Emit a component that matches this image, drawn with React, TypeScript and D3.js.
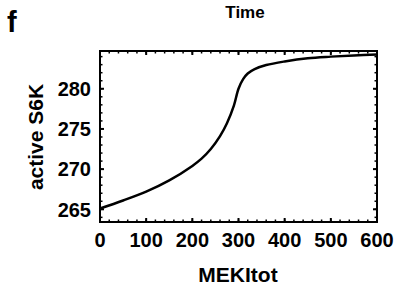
import React from "react";
import * as d3 from "d3";

const mekiTot = [0, 50, 100, 150, 200, 220, 240, 260, 275, 290, 300, 310, 320, 335, 360, 400, 450, 500, 550, 600];
const activeS6K = [265.1, 266.1, 267.2, 268.6, 270.4, 271.3, 272.5, 274.1, 275.7, 277.9, 280.0, 281.2, 281.9, 282.45, 282.95, 283.4, 283.8, 284.0, 284.15, 284.25];
const xTicks = [0, 100, 200, 300, 400, 500, 600];
const yTicks = [265, 270, 275, 280];
const xMinor = d3.range(0, 601, 20);
const yMinor = d3.range(264, 285, 1);

const W = 400, H = 285;
const L = 100, R = 377, T = 51, B = 222;

export default function App() {
  const x = d3.scaleLinear().domain([0, 600]).range([L, R]);
  const y = d3.scaleLinear().domain([263.42, 284.7]).range([B, T]);
  const pts = mekiTot.map((m, i) => [m, activeS6K[i]] as [number, number]);
  const line = d3.line<[number, number]>().x(d => x(d[0])).y(d => y(d[1])).curve(d3.curveCatmullRom.alpha(0.5));
  const font = "'Liberation Sans', Arial, sans-serif";
  return (
    <svg width={W} height={H} style={{ position: "absolute", left: 0, top: 0 }} fontFamily={font} fontWeight="bold">
      <rect x={0} y={0} width={W} height={H} fill="white" />
      <text x={7} y={32} fontSize={29}>f</text>
      <text x={245} y={18} fontSize={17} textAnchor="middle">Time</text>
      {xMinor.map(v => (
        <g key={"xm" + v}>
          <line x1={x(v)} x2={x(v)} y1={B} y2={B - 2.5} stroke="black" strokeWidth={1.5} />
          <line x1={x(v)} x2={x(v)} y1={T} y2={T + 2.5} stroke="black" strokeWidth={1.5} />
        </g>
      ))}
      {yMinor.filter(v => v > 263.42 && v < 284.7).map(v => (
        <g key={"ym" + v}>
          <line x1={L} x2={L + 2.5} y1={y(v)} y2={y(v)} stroke="black" strokeWidth={1.5} />
          <line x1={R} x2={R - 2.5} y1={y(v)} y2={y(v)} stroke="black" strokeWidth={1.5} />
        </g>
      ))}
      {xTicks.map(v => (
        <g key={"x" + v}>
          <line x1={x(v)} x2={x(v)} y1={B} y2={B - 4} stroke="black" strokeWidth={2} />
          <line x1={x(v)} x2={x(v)} y1={T} y2={T + 4} stroke="black" strokeWidth={2} />
          <text x={x(v)} y={247} fontSize={20} textAnchor="middle">{v}</text>
        </g>
      ))}
      {yTicks.map(v => (
        <g key={"y" + v}>
          <line x1={L} x2={L + 4} y1={y(v)} y2={y(v)} stroke="black" strokeWidth={2} />
          <line x1={R} x2={R - 4} y1={y(v)} y2={y(v)} stroke="black" strokeWidth={2} />
          <text x={91} y={y(v)} dy="0.36em" fontSize={20} textAnchor="end">{v}</text>
        </g>
      ))}
      <rect x={L} y={T} width={R - L} height={B - T} fill="none" stroke="black" strokeWidth={2} />
      <path d={line(pts) || ""} fill="none" stroke="black" strokeWidth={2.5} />
      <text x={238} y={282} fontSize={21} textAnchor="middle">MEKItot</text>
      <text transform="translate(43,137) rotate(-90)" fontSize={21} textAnchor="middle">active S6K</text>
    </svg>
  );
}
